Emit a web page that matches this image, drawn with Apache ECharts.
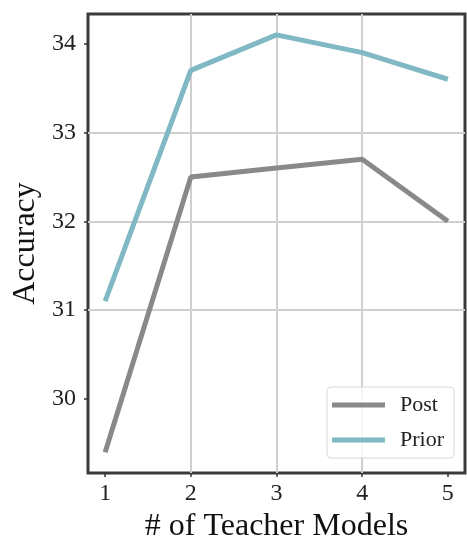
<!DOCTYPE html>
<html>
<head>
<meta charset="utf-8">
<script src="https://cdn.jsdelivr.net/npm/echarts@6/dist/echarts.min.js"></script>
<style>
  html, body { margin: 0; padding: 0; background: #fff; }
  #chart { width: 467px; height: 543px; }
</style>
</head>
<body>
<div id="chart"></div>
<script>
  // number of teacher models
  var teachers = [1, 2, 3, 4, 5];
  var postAcc = [29.4, 32.5, 32.6, 32.7, 32.0];
  var priorAcc = [31.1, 33.7, 34.1, 33.9, 33.6];
  var seriesNames = ['Post', 'Prior'];
  var yTicks = [30, 31, 32, 33, 34];

  var font = '"Liberation Serif", "DejaVu Serif", serif';

  function pairs(xs, ys) {
    return xs.map(function (x, i) { return [x, ys[i]]; });
  }

  var myChart = echarts.init(document.getElementById('chart'));
  var option = {
    animation: false,
    grid: {
      left: 88, right: 2, top: 14, bottom: 70,
      outerBoundsMode: 'none',
      show: true, borderColor: '#3a3a3a', borderWidth: 3, backgroundColor: '#fff'
    },
    legend: {
      orient: 'vertical',
      right: 13, top: 387,
      data: seriesNames,
      icon: 'rect',
      itemWidth: 53, itemHeight: 5, itemGap: 13,
      padding: [7, 10, 7, 5],
      backgroundColor: 'rgba(255,255,255,0.8)',
      borderColor: '#d8d8d8', borderWidth: 1, borderRadius: 4,
      textStyle: { fontFamily: font, fontSize: 22, color: '#222', padding: [0, 0, 0, 10] }
    },
    xAxis: {
      type: 'value',
      min: 0.8, max: 5.2,
      name: '# of Teacher Models',
      nameLocation: 'middle', nameGap: 37,
      nameTextStyle: { fontFamily: font, fontSize: 32, color: '#111', verticalAlign: 'top' },
      axisLine: { show: false },
      axisTick: { show: true, length: 4, customValues: teachers, lineStyle: { color: '#333', width: 1.5 } },
      axisLabel: { fontFamily: font, fontSize: 24, color: '#222', margin: 9, customValues: teachers },
      splitLine: { show: true, showMinLine: false, showMaxLine: false, lineStyle: { color: '#cfcfcf', width: 2 } }
    },
    yAxis: {
      type: 'value',
      min: 29.165, max: 34.335,
      name: 'Accuracy',
      nameLocation: 'middle', nameGap: 44,
      nameTextStyle: { fontFamily: font, fontSize: 32, color: '#111' },
      axisLine: { show: false },
      axisTick: { show: true, length: 4, customValues: yTicks, lineStyle: { color: '#333', width: 1.5 } },
      axisLabel: { fontFamily: font, fontSize: 24, color: '#222', margin: 12, customValues: yTicks },
      splitLine: { show: true, showMinLine: false, showMaxLine: false, lineStyle: { color: '#cfcfcf', width: 2 } }
    },
    series: [
      {
        name: seriesNames[0],
        type: 'line',
        data: pairs(teachers, postAcc),
        showSymbol: false,
        lineStyle: { color: '#898989', width: 5 },
        itemStyle: { color: '#898989' }
      },
      {
        name: seriesNames[1],
        type: 'line',
        data: pairs(teachers, priorAcc),
        showSymbol: false,
        lineStyle: { color: '#80b8c3', width: 5 },
        itemStyle: { color: '#80b8c3' }
      }
    ]
  };
  myChart.setOption(option);
</script>
</body>
</html>
